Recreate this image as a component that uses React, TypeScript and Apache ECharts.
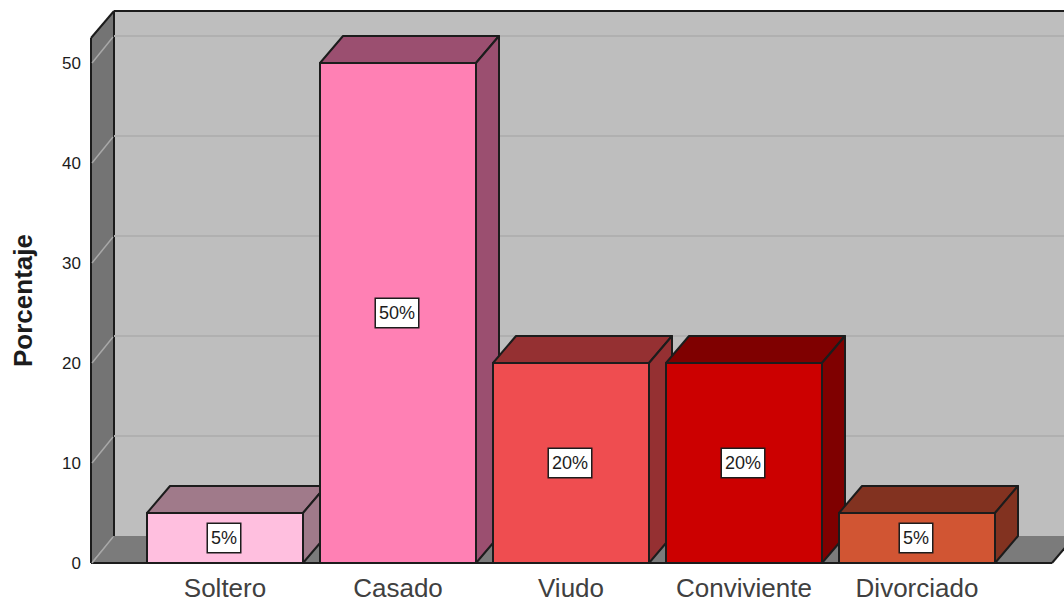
import React, { useEffect, useRef } from "react";
import * as echarts from "echarts";

const categories = ["Soltero", "Casado", "Viudo", "Conviviente", "Divorciado"];
const porcentajes = [5, 50, 20, 20, 5];
const etiquetas = ["5%", "50%", "20%", "20%", "5%"];
const frontColors = ["#FFBFDF", "#FF80B4", "#EF4D50", "#CC0000", "#D15533"];
const topColors = ["#A07A8A", "#9B4F70", "#953032", "#7F0000", "#823220"];
const sideColors = ["#A07A8A", "#9B4F70", "#953032", "#7F0000", "#823220"];
const gridValues = [0, 10, 20, 30, 40, 50];
const valueMax = 52.5;

// Oblique projection depth of the fake 3D box, and how far the floor runs past the bands.
const DEPTH_X = 23;
const DEPTH_Y = 27;
const PAD_LEFT = 47.5;
const PAD_RIGHT = 48.5;
const BAR_RATIO = 156 / 173;
const INK = "#1c1c1c";

const poly = (points: number[][], fill: string, stroke: string | null, lineWidth = 2) => ({
  type: "polygon",
  shape: { points },
  style: { fill, stroke: stroke ?? "none", lineWidth, lineJoin: "round" },
});

const seg = (x1: number, y1: number, x2: number, y2: number, stroke: string, lineWidth = 2) => ({
  type: "line",
  shape: { x1, y1, x2, y2 },
  style: { stroke, lineWidth, fill: "none" },
});

// Back wall, left wall and floor of the box.
function renderWalls(params: any, api: any) {
  const cs = params.coordSys;
  const y0 = api.coord([0, 0])[1];
  const yTop = api.coord([0, valueMax])[1];
  const xL = cs.x - PAD_LEFT;
  const xR = cs.x + cs.width + PAD_RIGHT;
  return {
    type: "group",
    children: [
      poly(
        [[xL + DEPTH_X, yTop - DEPTH_Y], [xR + DEPTH_X, yTop - DEPTH_Y], [xR + DEPTH_X, y0 - DEPTH_Y], [xL + DEPTH_X, y0 - DEPTH_Y]],
        "#BEBEBE",
        null
      ),
      poly(
        [[xL, y0], [xL + DEPTH_X, y0 - DEPTH_Y], [xR + DEPTH_X, y0 - DEPTH_Y], [xR, y0]],
        "#7B7B7B",
        null
      ),
      poly(
        [[xL, yTop], [xL + DEPTH_X, yTop - DEPTH_Y], [xL + DEPTH_X, y0 - DEPTH_Y], [xL, y0]],
        "#747474",
        null
      ),
      seg(xL, yTop, xL + DEPTH_X, yTop - DEPTH_Y, INK),
      seg(xL + DEPTH_X, yTop - DEPTH_Y, xR + DEPTH_X, yTop - DEPTH_Y, INK),
      seg(xL, yTop, xL, y0, INK),
      seg(xL + DEPTH_X, yTop - DEPTH_Y, xL + DEPTH_X, y0 - DEPTH_Y, INK),
      seg(xL, y0, xR, y0, INK),
      seg(xR, y0, xR + DEPTH_X, y0 - DEPTH_Y, INK),
    ],
  };
}

// One gridline per tick, running up the left wall and across the back wall.
function renderGridline(params: any, api: any) {
  const cs = params.coordSys;
  const y = api.coord([0, api.value(0)])[1];
  const xL = cs.x - PAD_LEFT;
  const xR = cs.x + cs.width + PAD_RIGHT;
  const back = seg(xL + DEPTH_X, y - DEPTH_Y, xR + DEPTH_X, y - DEPTH_Y, "#B0B0B0");
  const wall = seg(xL + 1, y, xL + DEPTH_X - 1, y - DEPTH_Y + 1, "#A8A8A8", 1.5);
  return { type: "group", children: api.value(0) === 0 ? [wall] : [back, wall] };
}

// A box for each category: front face, top, right side and its white value tag.
function renderBar(params: any, api: any) {
  const i = params.dataIndex;
  const [cx, yTop] = api.coord([api.value(0), api.value(1)]);
  const y0 = api.coord([api.value(0), 0])[1];
  const halfW = (api.size([1, 0])[0] * BAR_RATIO) / 2;
  const l = cx - halfW;
  const r = cx + halfW;
  return {
    type: "group",
    children: [
      poly([[l, yTop], [r, yTop], [r, y0], [l, y0]], frontColors[i], INK),
      poly([[l, yTop], [l + DEPTH_X, yTop - DEPTH_Y], [r + DEPTH_X, yTop - DEPTH_Y], [r, yTop]], topColors[i], INK),
      poly([[r, yTop], [r + DEPTH_X, yTop - DEPTH_Y], [r + DEPTH_X, y0 - DEPTH_Y], [r, y0]], sideColors[i], INK),
      {
        type: "text",
        x: cx - 1,
        y: (yTop + y0) / 2,
        style: {
          text: etiquetas[i],
          x: 0,
          y: 0,
          align: "center",
          verticalAlign: "middle",
          fontFamily: "Liberation Sans",
          fontSize: 18,
          fill: INK,
          backgroundColor: "#FFFFFF",
          borderColor: INK,
          borderWidth: 1.5,
          padding: [5, 3, 5, 3],
        },
      },
    ],
  };
}

export default function App() {
  const ref = useRef<HTMLDivElement>(null);

  useEffect(() => {
    document.body.style.margin = "0";
    const chart = echarts.init(ref.current!, null, { renderer: "svg" });
    chart.setOption({
      animation: false,
      backgroundColor: "#FFFFFF",
      grid: { left: 138.5, top: 38, width: 865, height: 525, outerBoundsMode: "none" },
      xAxis: {
        type: "category",
        data: categories,
        axisLine: { show: false },
        axisTick: { show: false },
        axisLabel: {
          fontFamily: "Liberation Sans",
          fontSize: 26,
          lineHeight: 26,
          color: "#404040",
          margin: 12,
          interval: 0,
        },
      },
      yAxis: {
        type: "value",
        min: 0,
        max: valueMax,
        interval: 10,
        offset: PAD_LEFT,
        name: "Porcentaje",
        nameLocation: "middle",
        nameRotate: 90,
        nameGap: 55,
        nameTextStyle: { fontFamily: "Liberation Sans", fontSize: 26, fontWeight: "bold", color: INK },
        axisLine: { show: false },
        axisTick: { show: false },
        splitLine: { show: false },
        axisLabel: {
          fontFamily: "Liberation Sans",
          fontSize: 17,
          color: INK,
          margin: 10,
          showMaxLabel: false,
        },
      },
      series: [
        { type: "custom", clip: false, silent: true, data: [[0]], renderItem: renderWalls },
        { type: "custom", clip: false, silent: true, data: gridValues.map((v) => [v]), renderItem: renderGridline },
        {
          type: "custom",
          clip: false,
          silent: true,
          data: porcentajes.map((v, i) => [i, v]),
          encode: { x: 0, y: 1 },
          renderItem: renderBar,
        },
      ],
    });
    return () => chart.dispose();
  }, []);

  return <div ref={ref} style={{ width: 1064, height: 602 }} />;
}
